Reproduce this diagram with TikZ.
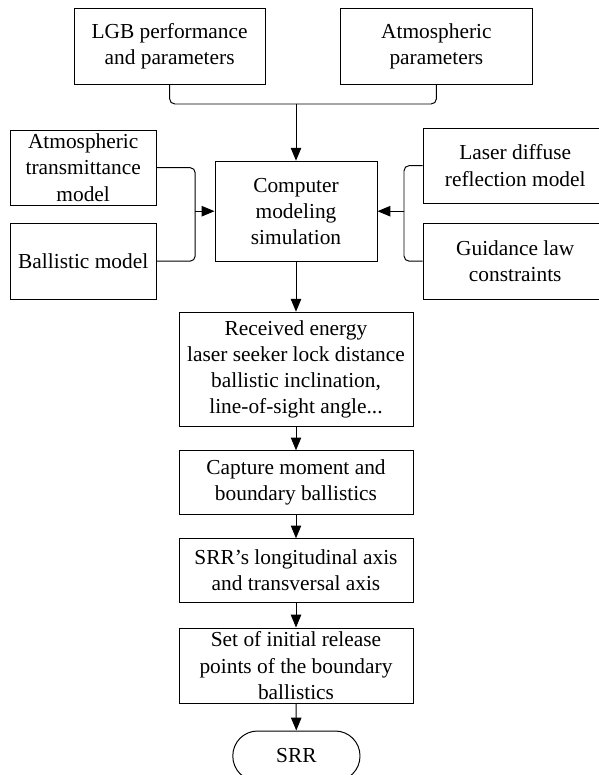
\documentclass[tikz,border=0pt]{standalone}
\usepackage{fontspec}
\setmainfont{Liberation Serif}
\usetikzlibrary{arrows.meta}

\begin{document}
\begin{tikzpicture}[
		font=\fontsize{15.2pt}{18.6pt}\selectfont,
		box/.style={draw, line width=0.7pt, align=center, inner sep=1pt, minimum width=#1},
		box/.default=5.85cm,
		flow/.style={-{Triangle[length=3.2mm,width=2.6mm]}, line width=0.7pt},
		feed/.style={line width=0.7pt, rounded corners=1.3mm},
	]
		\useasboundingbox (0,0) rectangle (14.95,-19.375);
		
		% inputs
		\node[box=4.78cm, minimum height=1.88cm] (lgb) at (4.24,-1.16) {LGB performance\\and parameters};
		\node[box=4.78cm, minimum height=1.88cm] (atmpar) at (10.91,-1.16) {Atmospheric\\parameters};
		\node[box=3.65cm, minimum height=1.88cm] (trans) at (2.08,-4.19) {Atmospheric\\transmittance\\model};
		\node[box=3.65cm, minimum height=1.9cm] (ball) at (2.08,-6.53) {Ballistic model};
		\node[box=4.6cm, minimum height=1.88cm] (laser) at (12.88,-4.14) {Laser diffuse\\reflection model};
		\node[box=4.6cm, minimum height=1.9cm] (guide) at (12.88,-6.53) {Guidance law\\constraints};
		\node[box=4.05cm, minimum height=2.5cm] (sim) at (7.4,-5.28) {Computer\\modeling\\simulation};
		
		% main chain
		\node[box, minimum height=2.85cm] (recv) at (7.4,-9.23) {Received energy\\laser seeker lock distance\\ballistic inclination,\\line-of-sight angle...};
		\node[box, minimum height=1.58cm] (capt) at (7.4,-12.06) {Capture moment and\\boundary ballistics};
		\node[box, minimum height=1.58cm] (axis) at (7.4,-14.26) {SRR’s longitudinal axis\\and transversal axis};
		\node[box, minimum height=1.88cm] (rel) at (7.4,-16.64) {Set of initial release\\points of the boundary\\ballistics};
		\node[draw, line width=0.7pt, rounded corners=6.2mm, minimum width=3.18cm, minimum height=1.25cm] (srr) at (7.41,-18.9) {SRR};
		
		\coordinate (merge) at (7.4,-2.6);
		\coordinate (ljoin) at (4.88,-5.28);
		\coordinate (rjoin) at (10.1,-5.28);
		
		\draw[feed] (lgb.south) |- (merge);
		\draw[feed] (atmpar.south) |- (merge);
		\draw[flow] (merge) -- (sim.north);
		
		\draw[feed] (trans.east) -| (ljoin);
		\draw[feed] (ball.east) -| (ljoin);
		\draw[flow] (ljoin) -- (sim.west);
		\draw[feed] (laser.west) -| (rjoin);
		\draw[feed] (guide.west) -| (rjoin);
		\draw[flow] (rjoin) -- (sim.east);
		
		\draw[flow] (sim) -- (recv);
		\draw[flow] (recv) -- (capt);
		\draw[flow] (capt) -- (axis);
		\draw[flow] (axis) -- (rel);
		\draw[flow] (rel) -- (srr);
	\end{tikzpicture}
\end{document}
